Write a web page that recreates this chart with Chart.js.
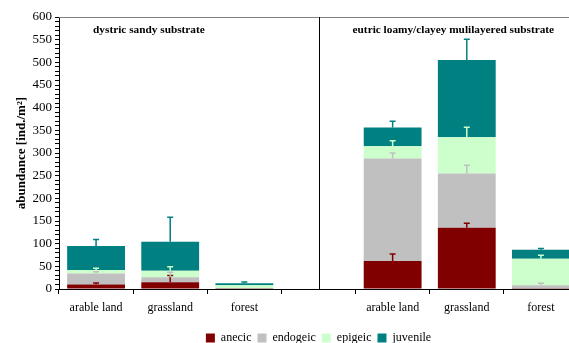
<!DOCTYPE html>
<html>
<head>
<meta charset="utf-8">
<script src="https://cdn.jsdelivr.net/npm/chart.js@4/dist/chart.umd.min.js"></script>
<style>
  html, body { margin: 0; padding: 0; background: #fff; overflow: hidden; }
  #wrap { width: 578px; height: 343px; }
</style>
</head>
<body>
<div id="wrap"><canvas id="myChart"></canvas></div>
<script>
// categories, one empty slot separates the two substrates
const categories = ['arable land', 'grassland', 'forest', '', 'arable land', 'grassland', 'forest'];

// stacked abundance values [ind./m2]
const anecic   = [10, 15, 0.5, null, 62, 135, 0.5];
const endogeic = [24, 11, 1, null, 226, 120, 8];
const epigeic  = [8, 14, 7, null, 27, 80, 58];
const juvenile = [53, 64, 4, null, 41, 170, 20];

// upper error (standard error) for each segment
const anecicErr   = [3, 15, 0, null, 15, 10, 0];
const endogeicErr = [4, 11, 0, null, 12, 18, 4];
const epigeicErr  = [4, 9, 0, null, 12, 22, 8];
const juvenileErr = [14, 54, 3, null, 14, 46, 3];

const groupTitles = ['dystric sandy substrate', 'eutric loamy/clayey mulilayered substrate'];

const serif = '"Liberation Serif", "Times New Roman", serif';

// draws the upper error bars at the top of every stacked segment
const errorBars = {
    id: 'errorBars',
    afterDatasetsDraw(chart) {
        const ctx = chart.ctx;
        const y = chart.scales.y;
        const x = chart.scales.x;
        const errs = [anecicErr, endogeicErr, epigeicErr, juvenileErr];
        ctx.save();
        ctx.lineWidth = 1.5;
        for (let j = 0; j < categories.length; j++) {
            let sum = 0;
            for (let i = 0; i < chart.data.datasets.length; i++) {
                const v = chart.data.datasets[i].data[j];
                if (v == null) continue;
                sum += v;
                const e = errs[i][j];
                if (!e) continue;
                const px = x.getPixelForValue(j);
                const y0 = y.getPixelForValue(sum);
                const y1 = y.getPixelForValue(sum + e);
                ctx.strokeStyle = chart.data.datasets[i].backgroundColor;
                ctx.beginPath();
                ctx.moveTo(px, y0);
                ctx.lineTo(px, y1);
                ctx.moveTo(px - 3, y1);
                ctx.lineTo(px + 3, y1);
                ctx.stroke();
            }
        }
        ctx.restore();
    }
};

// frame top, separator line and the two group titles
const decorations = {
    id: 'decorations',
    afterDraw(chart) {
        const ctx = chart.ctx;
        const a = chart.chartArea;
        const x = chart.scales.x;
        ctx.save();
        ctx.strokeStyle = '#808080';
        ctx.lineWidth = 1;
        ctx.beginPath();
        ctx.moveTo(a.left, a.top + 0.5);
        ctx.lineTo(a.right, a.top + 0.5);
        ctx.stroke();

        const sx = Math.round(x.getPixelForValue(3)) + 0.5;
        ctx.strokeStyle = '#000';
        ctx.beginPath();
        ctx.moveTo(sx, a.top);
        ctx.lineTo(sx, a.bottom);
        ctx.stroke();

        ctx.fillStyle = '#000';
        ctx.font = 'bold 11.3px ' + serif;
        ctx.textBaseline = 'middle';
        ctx.textAlign = 'left';
        const half = (x.getPixelForValue(1) - x.getPixelForValue(0)) / 2;
        ctx.fillText(groupTitles[0], x.getPixelForValue(0) - 3, a.top + 13);
        ctx.fillText(groupTitles[1], x.getPixelForValue(4) - half - 3, a.top + 13);
        ctx.restore();
    }
};

const ctx = document.getElementById('myChart').getContext('2d');
const chart = new Chart(ctx, {
    type: 'bar',
    data: {
        labels: categories,
        datasets: [
            { label: 'anecic', data: anecic, backgroundColor: '#800000' },
            { label: 'endogeic', data: endogeic, backgroundColor: '#C0C0C0' },
            { label: 'epigeic', data: epigeic, backgroundColor: '#CCFFCC' },
            { label: 'juvenile', data: juvenile, backgroundColor: '#008080' }
        ]
    },
    options: {
        responsive: true,
        maintainAspectRatio: false,
        animation: false,
        layout: { padding: { top: 17, right: 0, left: 0, bottom: -11 } },
        datasets: {
            bar: { categoryPercentage: 1, barPercentage: 0.78, borderWidth: 0 }
        },
        plugins: {
            legend: {
                position: 'bottom',
                fullSize: false,
                labels: {
                    boxWidth: 9,
                    boxHeight: 9,
                    padding: 6,
                    color: '#000',
                    font: { family: serif, size: 12 }
                }
            },
            tooltip: { enabled: false }
        },
        scales: {
            x: {
                stacked: true,
                afterFit(scale) { scale.height = 37; },
                grid: { offset: true, drawOnChartArea: false, tickLength: 5, color: '#000' },
                border: { color: '#000', width: 1 },
                ticks: { color: '#000', font: { family: serif, size: 12 }, maxRotation: 0, padding: 7 }
            },
            y: {
                stacked: true,
                min: 0,
                max: 600,
                afterFit(scale) { scale.width = 59; },
                grid: { drawOnChartArea: false, tickLength: 4, color: '#000' },
                border: { color: '#000', width: 1 },
                ticks: {
                    stepSize: 10,
                    autoSkip: false,
                    color: '#000',
                    padding: 3,
                    font: { family: serif, size: 13 },
                    callback: function (v) { return v % 50 === 0 ? v : ''; }
                },
                title: {
                    display: true,
                    text: 'abundance [ind./m²]',
                    color: '#000',
                    padding: { top: 14, bottom: 0 },
                    font: { family: serif, size: 13, weight: 'bold' }
                }
            }
        }
    },
    plugins: [errorBars, decorations]
});
</script>
</body>
</html>
